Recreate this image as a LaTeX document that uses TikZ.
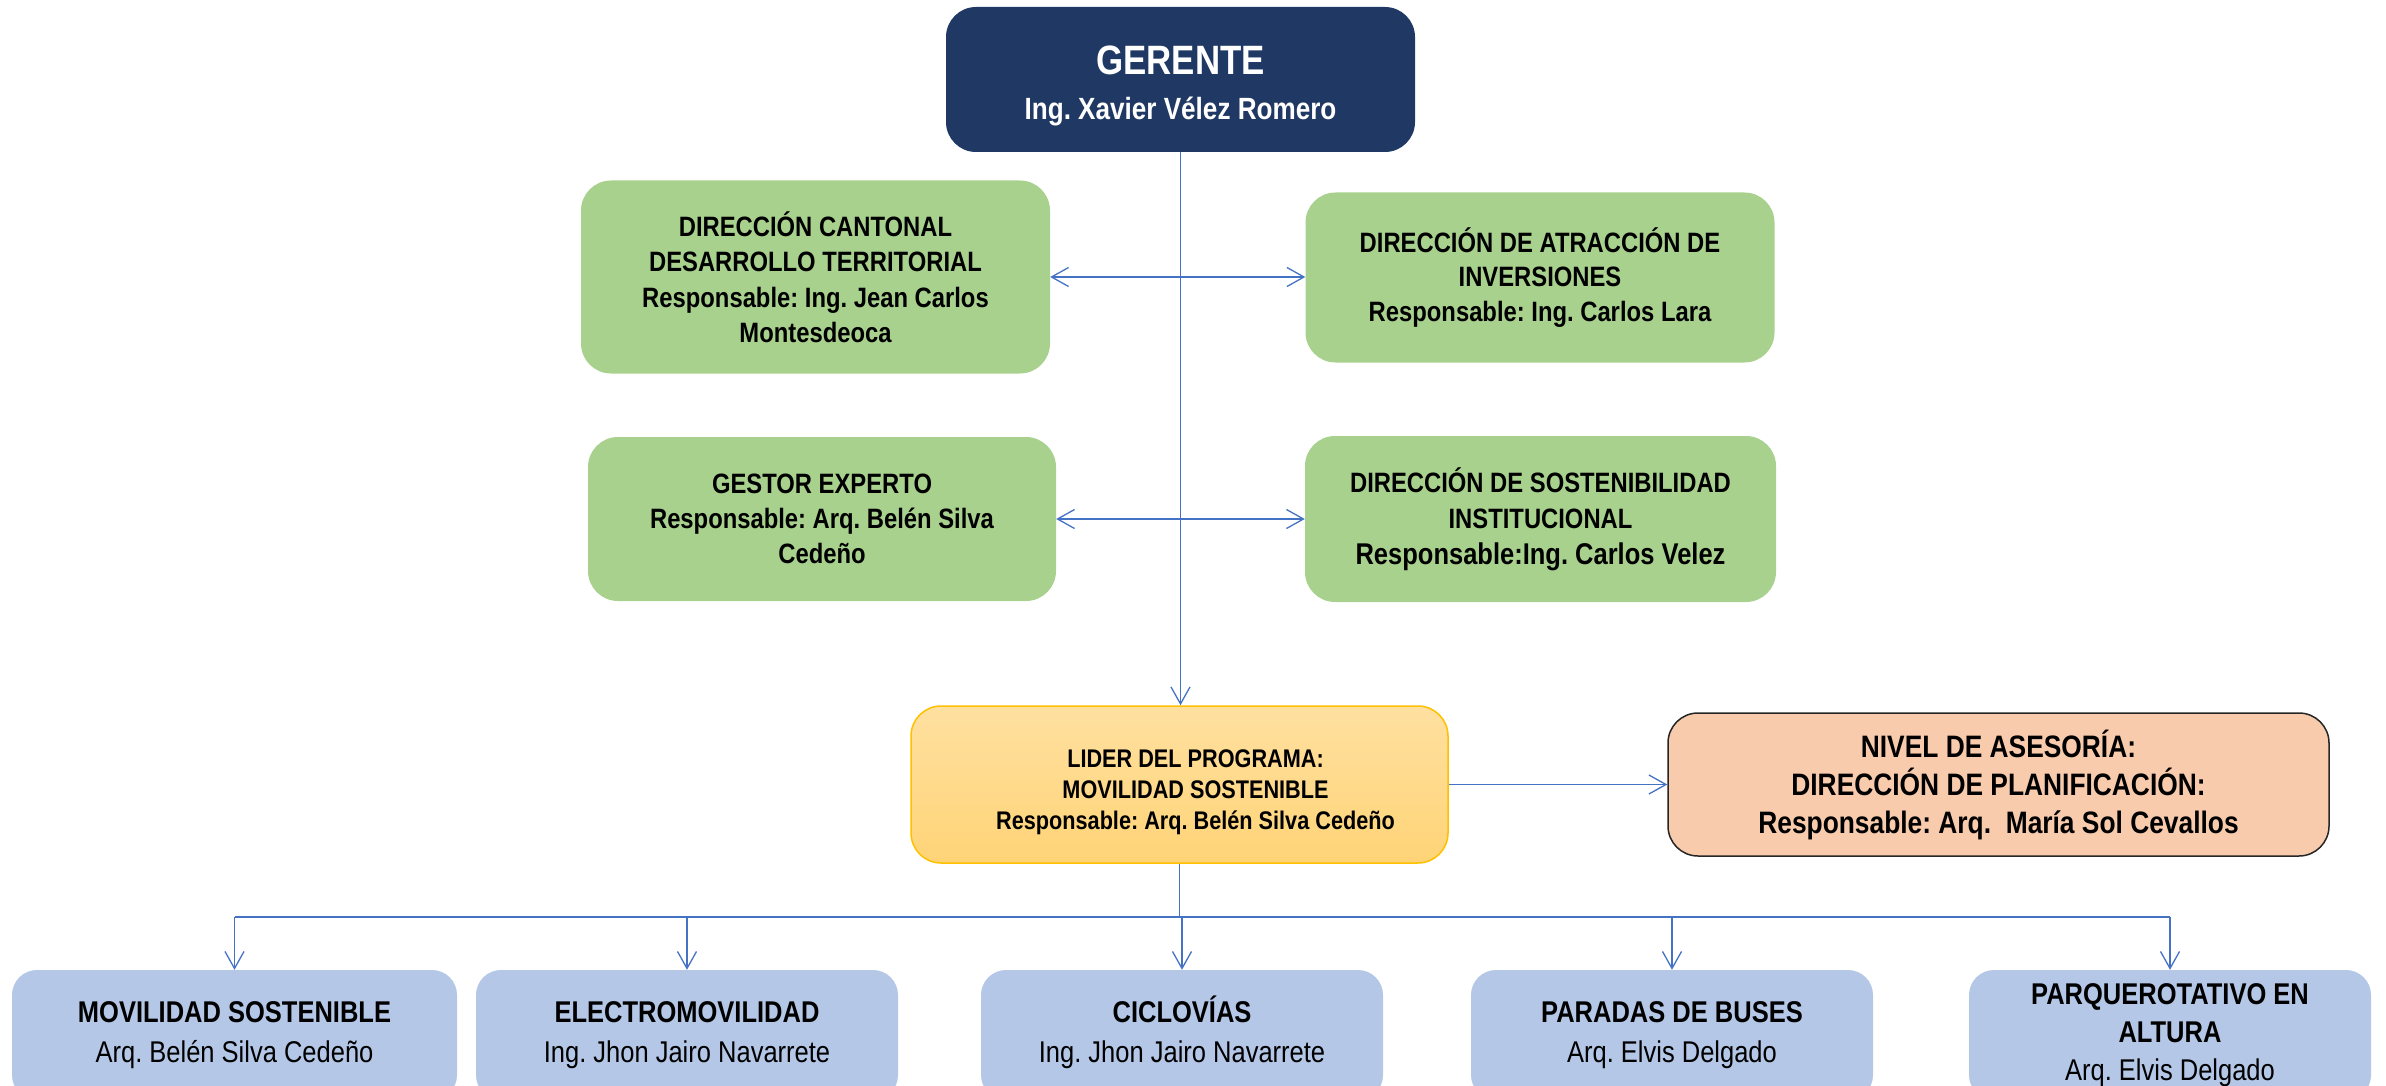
\documentclass[tikz,border=0pt]{standalone}
\usepackage{fontspec}
\setmainfont{Liberation Sans}[FakeStretch=0.85]
\usetikzlibrary{arrows.meta}
\definecolor{navy}{HTML}{203864}
\definecolor{grn}{HTML}{A9D18E}
\definecolor{blu}{HTML}{B4C7E7}
\definecolor{peach}{HTML}{F8CBAD}
\definecolor{lnk}{HTML}{4472C4}
\definecolor{ytop}{HTML}{FFE0A0}
\definecolor{ybot}{HTML}{FFD477}
\definecolor{yedge}{HTML}{FFC000}
\frenchspacing
\tikzset{
  box/.style={rectangle, rounded corners=30, align=center, inner sep=0pt, font=\bfseries},
  txt/.style={align=center, inner sep=0pt},
  gbox/.style={box, fill=grn, font=\bfseries\fontsize{28}{35.5}\selectfont},
  bbox/.style={box, fill=blu, rounded corners=25, minimum height=130, font=\fontsize{30}{40}\selectfont},
  lnkline/.style={draw=lnk, line width=1.6pt},
  tip/.style={-{Straight Barb[length=17pt,width=19pt,line width=1.3pt]}},
  tips/.style={{Straight Barb[length=17pt,width=19pt,line width=1.3pt]}-{Straight Barb[length=17pt,width=19pt,line width=1.3pt]}}
}
\begin{document}
\begin{tikzpicture}[x=1pt,y=-1pt]
\useasboundingbox (0,0) rectangle (2386,1086);
\clip (0,0) rectangle (2386,1086);
\node[box, fill=navy, minimum width=469, minimum height=145] (ger) at (1180.5,79.5) {};
\node[txt, text=white, font=\bfseries\fontsize{30.7}{41}\selectfont] (gertxt) at ([yshift=-6.5pt]ger.center)
  {{\fontsize{41}{41}\selectfont GERENTE}\\[4.5pt]Ing. Xavier Vélez Romero};
\node[gbox, minimum width=469, minimum height=193] (b1) at (815.5,277)
  {DIRECCIÓN CANTONAL\\DESARROLLO TERRITORIAL\\Responsable: Ing. Jean Carlos\\Montesdeoca};
\node[gbox, minimum width=469, minimum height=170, font=\bfseries\fontsize{28}{34.5}\selectfont] (b2) at (1540,277.5)
  {DIRECCIÓN DE ATRACCIÓN DE\\INVERSIONES\\Responsable: Ing. Carlos Lara};
\node[gbox, minimum width=468, minimum height=164, font=\bfseries\fontsize{28}{35}\selectfont] (b3) at (822,519)
  {GESTOR EXPERTO\\Responsable: Arq. Belén Silva\\Cedeño};
\node[gbox, minimum width=471, minimum height=166, font=\bfseries\fontsize{28}{36}\selectfont] (b4) at (1540.5,519)
  {DIRECCIÓN DE SOSTENIBILIDAD\\INSTITUCIONAL\\{\fontsize{30}{36}\selectfont Responsable:Ing. Carlos Velez}};
\node[box, draw=yedge, line width=1.5pt, top color=ytop, bottom color=ybot, minimum width=537, minimum height=157] (lider) at (1179.5,784.5) {};
\node[txt, font=\bfseries\fontsize{25.5}{31}\selectfont] (lidertxt) at ([xshift=16pt,yshift=-8pt]lider.center)
  {LIDER DEL PROGRAMA:\\MOVILIDAD SOSTENIBLE\\Responsable: Arq. Belén Silva Cedeño};
\node[box, draw=black!85, line width=1.5pt, fill=peach, minimum width=661, minimum height=143, font=\bfseries\fontsize{31}{38}\selectfont] (nivel) at (1998.5,784.5)
  {NIVEL DE ASESORÍA:\\DIRECCIÓN DE PLANIFICACIÓN:\\Responsable: Arq.\ \ María Sol Cevallos};
\node[bbox, minimum width=445] (m1) at (234.5,1035) {\textbf{MOVILIDAD SOSTENIBLE}\\Arq. Belén Silva Cedeño};
\node[bbox, minimum width=422] (m2) at (687,1035) {\textbf{ELECTROMOVILIDAD}\\Ing. Jhon Jairo Navarrete};
\node[bbox, minimum width=402] (m3) at (1182,1035) {\textbf{CICLOV\smash{Í}AS}\\Ing. Jhon Jairo Navarrete};
\node[bbox, minimum width=402] (m4) at (1672,1035) {\textbf{PARADAS DE BUSES}\\Arq. Elvis Delgado};
\node[bbox, minimum width=402, font=\fontsize{30}{38}\selectfont] (m5) at (2170,1035) {\textbf{PARQUEROTATIVO EN}\\\textbf{ALTURA}\\Arq. Elvis Delgado};
% connectors
\draw[lnkline, tip] (ger.south) -- (ger.south |- lider.north);
\draw[lnkline, tips] (b1.east) -- (b1.east -| b2.west);
\draw[lnkline, tips] (b3.east) -- (b3.east -| b4.west);
\draw[lnkline, tip] (lider.east) -- (nivel.west);
\coordinate (bus) at (1179.5,917);
\draw[lnkline] (lider.south) -- (bus);
\draw[lnkline] (m1.north |- bus) -- (m5.north |- bus);
\foreach \m in {m1,m2,m3,m4,m5}
  \draw[lnkline, tip] (\m.north |- bus) -- (\m.north);
\end{tikzpicture}
\end{document}
